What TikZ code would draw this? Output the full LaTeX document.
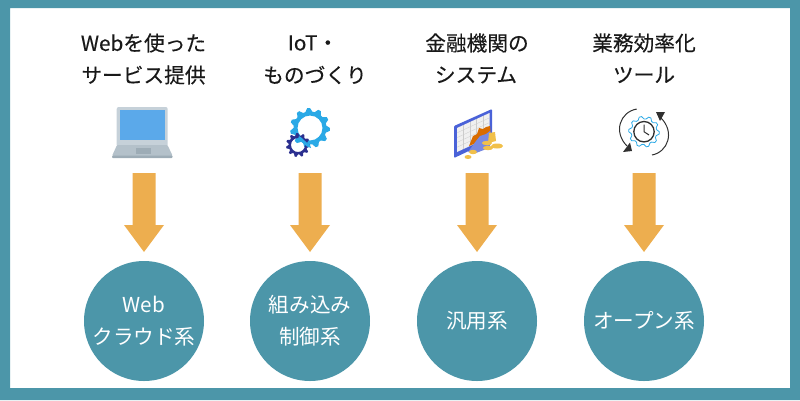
\documentclass[tikz,border=0pt]{standalone}
\usepackage{fontspec}
\setmainfont{Noto Sans CJK JP}
\newfontfamily\hfont[FakeBold=0.25]{Noto Sans CJK JP}
\definecolor{teal}{HTML}{4C96A9}
\definecolor{org}{HTML}{EDAE4F}
\definecolor{lid}{HTML}{C6D1D9}
\definecolor{scr}{HTML}{5BA9EA}
\definecolor{keys}{HTML}{B4C1CA}
\definecolor{pad}{HTML}{9DACB6}
\definecolor{gearA}{HTML}{2AA9E6}
\definecolor{gearB}{HTML}{2B2F8F}
\definecolor{mon}{HTML}{4A62D8}
\definecolor{coin}{HTML}{F1C04A}
\definecolor{ink}{HTML}{303030}
\tikzset{x=1pt,y=-1pt,
 head/.style={font=\hfont\fontsize{20.7}{21}\selectfont,text=black!90,inner sep=0,anchor=center},
 circ/.style={circle,fill=teal,minimum size=120pt,inner sep=0,align=center,text=white,font=\fontsize{20.6}{32}\selectfont},
 arrowshape/.style={fill=org},
}
\newcommand{\downarrowat}[1]{\fill[arrowshape] (#1-11.5,173) -- (#1+11.5,173) -- (#1+11.5,225) -- (#1+20,225) -- (#1,252) -- (#1-20,225) -- (#1-11.5,225) -- cycle;}
\newcommand{\gearpath}[5]{plot[samples=#5*4+1,domain=0:360] ({#1+(#3*(mod(round(\x*#5/90),4)<2?1:0)+#4*(mod(round(\x*#5/90),4)<2?0:1))*cos(\x)},{#2+(#3*(mod(round(\x*#5/90),4)<2?1:0)+#4*(mod(round(\x*#5/90),4)<2?0:1))*sin(\x)}) -- cycle}
\newcommand{\mygear}[7]{\fill[#6,even odd rule] \gearpath{#1}{#2}{#3}{#4}{#5} (#1+#7,#2) arc[start angle=0,end angle=360,radius=#7];}
\begin{document}
\begin{tikzpicture}
\useasboundingbox (0,0) rectangle (800,400);
\fill[teal,even odd rule] (0,0) rectangle (800,400) (10,8) rectangle (790,388);
% headings
\node[head] (h1a) at (143.5,43) {Webを使った};
\node[head] (h1b) at (143.5,75) {サービス提供};
\node[head] (h2a) at (313,43) {IoT・};
\node[head] (h2b) at (315,75) {ものづくり};
\node[head] (h3a) at (477,43) {金融機関の};
\node[head] (h3b) at (476,75) {システム};
\node[head] (h4a) at (644,43) {業務効率化};
\node[head] (h4b) at (644,75) {ツール};
% laptop
\fill[lid,rounded corners=2pt] (116.7,107) rectangle (167.7,147);
\fill[scr] (120,110) rectangle (164.7,139.5);
\fill[keys,rounded corners=1pt] (117,145) -- (167.5,145) -- (172.7,156) -- (112,156) -- cycle;
\fill[pad] (136,148) rectangle (151,154);
\fill[pad,rounded corners=1pt] (112,155.5) rectangle (172.7,158);
% gears
\mygear{310}{128}{20}{16.5}{11}{gearA}{12.5}
\mygear{298}{145}{12}{9.5}{11}{gearB}{7}
\fill[gearA] (299,136) .. controls (303,138) and (306,143) .. (310,145) -- (311,148) .. controls (305,147) and (302,141) .. (298,139) -- cycle;
% finance monitor
\fill[mon,rounded corners=1pt] (454,126) -- (492,109) -- (492,140) -- (454,158) -- cycle;
\fill[black!6] (457,128) -- (489.5,113) -- (489.5,137) -- (457,152) -- cycle;
\foreach \t in {0.2,0.4,0.6,0.8}{
 \draw[black!20,line width=.3pt] ({457+\t*32.5},{128-\t*15}) -- ({457+\t*32.5},{152-\t*15});
 \draw[black!20,line width=.3pt] ({457},{128+\t*24}) -- ({489.5},{113+\t*24});
}
\fill[orange!85!black] (469,146) -- (473,136) -- (477,134) -- (479,128) -- (483,129) -- (486,127) -- (490,126) -- (491,137) -- cycle;
\fill[mon!75!white] (468,152) -- (476,141) -- (480,136) -- (486,134) -- (490,131) -- (493,138) -- (489,148) -- (476,153) -- cycle;
\fill[coin] (489,133) -- (495,132) -- (496,141) -- (488,143) -- cycle;
\fill[coin] (487,143) ellipse[x radius=5,y radius=2.2] (497,146) ellipse[x radius=6,y radius=2.5] (488,148) ellipse[x radius=5,y radius=2.2] (473,152) ellipse[x radius=4,y radius=2.2] (468,157) ellipse[x radius=3.5,y radius=2];
% clock icon
\draw[gearA,line width=.8pt,fill=white] \gearpath{644}{131.7}{15.3}{12.8}{10};
\draw[ink,line width=1.3pt,fill=white] (644,131.7) circle[radius=10.2];
\draw[ink,line width=1pt] (644,124.5) -- (644,131.7) -- (649,135);
\draw[ink,line width=1pt] (636.7,109) .. controls (620,112) and (613,132) .. (627,146);
\fill[ink] (623,152) -- (632,151) -- (630,142.5) -- cycle;
\draw[ink,line width=1pt] (652,155) .. controls (668,152) and (675,132) .. (661,118);
\fill[ink] (656,112) -- (665,112) -- (660,121) -- cycle;
% arrows
\downarrowat{144}\downarrowat{310}\downarrowat{477}\downarrowat{644}
% circles
\node[circ] (c1) at (144,321) {Web\\クラウド系};
\node[circ] (c2) at (310,321) {組み込み\\制御系};
\node[circ] (c3) at (477,321) {汎用系};
\node[circ] (c4) at (644,321) {オープン系};
\end{tikzpicture}
\end{document}
